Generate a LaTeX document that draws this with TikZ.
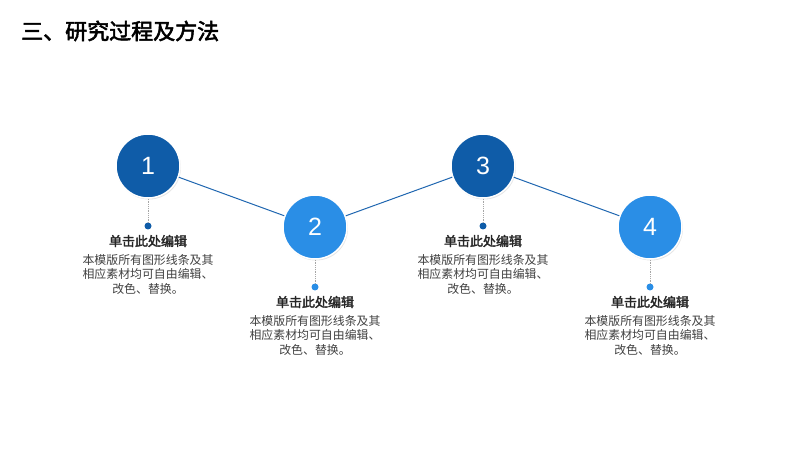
\documentclass[tikz,border=0pt]{standalone}
\usepackage{fontspec}
\usetikzlibrary{shadows}
\newfontfamily\cjk{Noto Sans CJK SC}[AutoFakeBold=2.5]
\newfontfamily\numf{Liberation Sans}
\definecolor{dk}{HTML}{0F5CA8}
\definecolor{lt}{HTML}{2A8EE6}
\definecolor{ln}{HTML}{1F66B0}
\tikzset{x=1pt,y=1pt,
 circ/.style={circle,minimum size=64pt,inner sep=0pt,draw=white,line width=1.5pt,text=white,font=\numf\fontsize{25}{25}\selectfont},
 dotn/.style={circle,minimum size=7pt,inner sep=0pt},
 ttl/.style={font=\cjk\bfseries\fontsize{13}{15}\selectfont,text=black!85,inner sep=0pt},
 bdy/.style={font=\cjk\fontsize{11.9}{14.6}\selectfont,text=black!75,align=center,inner sep=0pt},
 stem/.style={draw=gray!70,densely dotted,line width=0.8pt}}
\begin{document}
\begin{tikzpicture}
\useasboundingbox (0,0) rectangle (800,450);
\node[anchor=west,font=\cjk\bfseries\fontsize{22}{24}\selectfont,inner sep=0pt] (title) at (21,419) {三、研究过程及方法};
\foreach \i/\x/\y/\c in {1/148/284/dk,2/315/223/lt,3/483/284/dk,4/650/223/lt}{
  \node[circ,fill=\c,drop shadow={opacity=0.2,shadow xshift=1pt,shadow yshift=-1.5pt}] (c\i) at (\x,\y) {\i};
}
\draw[ln,line width=1pt] (c1)--(c2) (c2)--(c3) (c3)--(c4);
\foreach \i/\x/\y/\c in {1/148/284/dk,2/315/223/lt,3/483/284/dk,4/650/223/lt}{
  \node[dotn,fill=\c] (d\i) at (\x,\y-60) {};
  \draw[stem] (c\i.south) -- (d\i);
  \node[ttl] (t\i) at (\x,\y-75) {单击此处编辑};
  \node[bdy,anchor=north] (b\i) at (\x,\y-88) {本模版所有图形线条及其\\相应素材均可自由编辑、\\改色、替换。};
}
\end{tikzpicture}
\end{document}
